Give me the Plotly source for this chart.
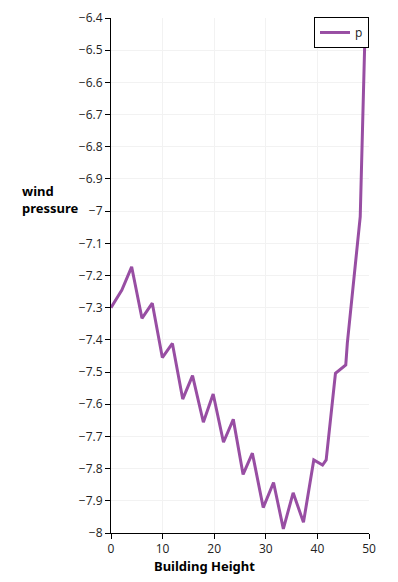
import plotly.graph_objects as go

building_height = [0, 2.1, 4.0, 6.0, 8.0, 9.95, 11.9, 13.9, 15.8, 17.9, 19.8, 21.8, 23.7,
                   25.6, 27.4, 29.5, 31.5, 33.4, 35.3, 37.3, 39.3, 41.0, 41.7, 43.5,
                   45.5, 45.8, 48.3, 49.3]
wind_pressure = [-7.30, -7.245, -7.173, -7.333, -7.286, -7.455, -7.411, -7.584, -7.511,
                 -7.656, -7.568, -7.718, -7.647, -7.818, -7.752, -7.921, -7.843, -7.987,
                 -7.875, -7.967, -7.773, -7.789, -7.773, -7.504, -7.478, -7.41, -7.017,
                 -6.40]
series_name = "p"

fig = go.Figure()
fig.add_trace(go.Scatter(
    x=building_height, y=wind_pressure, mode="lines", name=series_name,
    line=dict(color="#984ea3", width=3),
))

axis_common = dict(
    showline=True, linecolor="black", linewidth=1,
    ticks="outside", ticklen=5, tickcolor="black",
    showgrid=True, gridcolor="#f2f2f2", gridwidth=1,
    zeroline=False, automargin=False,
    tickfont=dict(family="Open Sans, sans-serif", size=12, color="#222"),
)

fig.update_layout(
    width=398, height=582,
    margin=dict(l=111, r=29, t=18, b=49),
    paper_bgcolor="white", plot_bgcolor="white",
    showlegend=True,
    legend=dict(x=1, y=1.002, xanchor="right", yanchor="top",
                bordercolor="black", borderwidth=1, bgcolor="white",
                itemwidth=30, tracegroupgap=0,
                font=dict(family="Open Sans, sans-serif", size=12, color="#222")),
    xaxis=dict(range=[0, 50], dtick=10, **axis_common),
    yaxis=dict(range=[-8, -6.4], dtick=0.1, **axis_common),
    annotations=[
        dict(text="<b>wind<br>pressure</b>", xref="paper", yref="paper",
             x=-0.352, y=0.647, xanchor="left", yanchor="middle", showarrow=False,
             align="left", font=dict(family="Noto Sans, sans-serif", size=13, color="black")),
        dict(text="<b>Building Height</b>", xref="paper", yref="paper",
             x=0.364, y=-0.064, xanchor="center", yanchor="middle", showarrow=False,
             font=dict(family="Noto Sans, sans-serif", size=13, color="black")),
    ],
)

fig.write_html("out.html", config={"displayModeBar": False},
               post_script="document.body.style.margin='0';document.body.style.padding='0';")
